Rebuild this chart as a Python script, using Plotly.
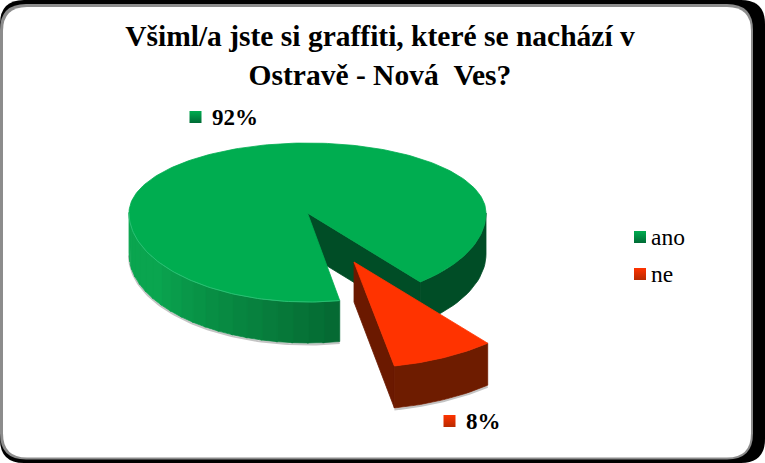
import numpy as np
import plotly.graph_objects as go

# --- data -------------------------------------------------------------
categories = ["ano", "ne"]
shares = [92, 8]
title_lines = ["Všiml/a jste si graffiti, které se nachází v", "Ostravě - Nová\u00a0\u00a0Ves?"]

# --- style / projection of the tilted pie -----------------------------
FONT = "Liberation Serif"
TOP = {"ano": "#00ad50", "ne": "#ff3300"}
START_DEG = 50.8          # the large slice's cut sits here, clockwise on screen
NE_START_DEG = 50.0       # the pulled slice is seen under a slightly different perspective
W, H = 765, 463


def rim(t, apex, a, b_low, b_up):
    """Screen position of the rim at angle(s) t (degrees) of a tilted pie."""
    r = np.radians(t)
    s = np.sin(r)
    return apex[0] + a * np.cos(r), apex[1] + np.where(s > 0, b_low, b_up) * s


ne_sweep = 360.0 * shares[1] / sum(shares)
ano_sweep = 360.0 * shares[0] / sum(shares)
ano_geo = dict(apex=(307.5, 213.0), a=178.5, b_low=89.0, b_up=70.0)
ne_geo = dict(apex=(354.0, 262.0), a=208.0, b_low=106.0, b_up=106.0)
ano_depth, ne_depth = 41.0, 42.0
ano_t0, ano_t1 = START_DEG + ne_sweep, START_DEG + ne_sweep + ano_sweep
ne_t0, ne_t1 = NE_START_DEG, NE_START_DEG + ne_sweep

fig = go.Figure()


def poly(xs, ys, color):
    fig.add_trace(go.Scatter(
        x=list(xs), y=list(ys), mode="lines", fill="toself", fillcolor=color,
        line=dict(color=color, width=0.8), hoverinfo="skip", showlegend=False,
    ))


def arc(t_a, t_b, geo, dy, color, width):
    x, y = rim(np.linspace(t_a, t_b, 80), **geo)
    fig.add_trace(go.Scatter(
        x=list(x), y=list(y + dy), mode="lines", line=dict(color=color, width=width),
        hoverinfo="skip", showlegend=False,
    ))


def wall(t_a, t_b, geo, depth, color):
    t = np.linspace(t_a, t_b, 24)
    x, y = rim(t, **geo)
    poly(np.r_[x, x[::-1], x[0]], np.r_[y, y[::-1] + depth, y[0]], color)


def lerp_hex(c0, c1, f):
    a = [int(c0[i:i + 2], 16) for i in (1, 3, 5)]
    b = [int(c1[i:i + 2], 16) for i in (1, 3, 5)]
    return "#" + "".join(f"{round(p + (q - p) * f):02x}" for p, q in zip(a, b))


# soft shadow under the large slice
arc(ano_t0, 180, ano_geo, ano_depth + 1.5, "#c4c4c4", 2)

# outer wall of the large slice: right part in shade, front part lit
edges = np.linspace(ano_t0, 180, 21)
for i in range(len(edges) - 1):
    wall(edges[i], edges[i + 1] + 0.5, ano_geo, ano_depth,
         lerp_hex("#056a33", "#0aa54f", min(1.0, i / 13)))
wall(360, ano_t1, ano_geo, ano_depth, "#004d26")

# inner cut wall of the large slice, visible through the gap
ax, ay = ano_geo["apex"]
ex, ey = rim(np.array([ano_t1]), **ano_geo)
poly([ax, ex[0], ex[0], ax, ax], [ay, ey[0], ey[0] + ano_depth, ay + ano_depth, ay], "#004d26")

# top face of the large slice, with the light rim along its front edge
t = np.linspace(ano_t0, ano_t1, 240)
x, y = rim(t, **ano_geo)
poly(np.r_[ax, x, ax], np.r_[ay, y, ay], TOP["ano"])
arc(ano_t0, 180, ano_geo, 0, "#35c47c", 0.8)

# small pulled slice: shadow, walls then top
arc(ne_t0, ne_t1, ne_geo, ne_depth + 1.5, "#c4c4c4", 2)
nx, ny = ne_geo["apex"]
p0x, p0y = rim(np.array([ne_t1]), **ne_geo)
poly([nx, p0x[0], p0x[0], nx, nx], [ny, p0y[0], p0y[0] + ne_depth, ny + ne_depth - 2, ny], "#6b1900")
wall(ne_t0, ne_t1, ne_geo, ne_depth, "#6e1c00")
t = np.linspace(ne_t0, ne_t1, 40)
x, y = rim(t, **ne_geo)
poly(np.r_[nx, x, nx], np.r_[ny, y, ny], TOP["ne"])

GRAD = {"ano": "#006b35", "ne": "#b82a00"}


def swatch(cat, px, py):
    fig.add_trace(go.Scatter(
        x=[px], y=[py], mode="markers", hoverinfo="skip", showlegend=False,
        marker=dict(symbol="square", size=12, color=TOP[cat],
                    gradient=dict(type="vertical", color=GRAD[cat])),
    ))


# legend entries
legend_pos = {"ano": (640.0, 237.0), "ne": (640.0, 274.0)}
for cat in categories:
    lx, ly = legend_pos[cat]
    swatch(cat, lx, ly)
    fig.add_annotation(x=lx + 10, y=ly, text=cat, showarrow=False,
                       xanchor="left", yanchor="middle", xshift=-1,
                       font=dict(family=FONT, size=23.5, color="#000000"))

# data labels
label_pos = {"ano": (195.5, 117.0), "ne": (449.5, 421.0)}
for cat, val in zip(categories, shares):
    lx, ly = label_pos[cat]
    swatch(cat, lx, ly)
    fig.add_annotation(x=lx + 14, y=ly, text=f"<b>{val}%</b>", showarrow=False,
                       xanchor="left", yanchor="middle",
                       font=dict(family=FONT, size=23, color="#000000"))


def rrect(x0, y0, x1, y1, r, color):
    path = (f"M{x0+r},{y0} L{x1-r},{y0} Q{x1},{y0} {x1},{y0+r} L{x1},{y1-r} "
            f"Q{x1},{y1} {x1-r},{y1} L{x0+r},{y1} Q{x0},{y1} {x0},{y1-r} "
            f"L{x0},{y0+r} Q{x0},{y0} {x0+r},{y0} Z")
    return dict(type="path", path=path, xref="x", yref="y", layer="below",
                fillcolor=color, line=dict(width=0))


fig.update_layout(
    width=W, height=H, margin=dict(l=0, r=0, t=0, b=0), showlegend=False,
    paper_bgcolor="#ffffff", plot_bgcolor="rgba(0,0,0,0)",
    title=dict(text="<b>" + "<br>".join(title_lines) + "</b>", x=0.4967, xanchor="center",
               y=0.9, yanchor="top",
               font=dict(family=FONT, size=29.5, color="#000000")),
    xaxis=dict(range=[0, W], visible=False, fixedrange=True),
    yaxis=dict(range=[H, 0], visible=False, fixedrange=True),
    shapes=[rrect(0, 0, 765, 463, 24, "#000000"),
            rrect(0, 4, 753, 459.5, 26, "#8c8c8c"),
            rrect(3, 7, 751, 457.5, 24, "#ffffff")],
)

fig.write_html("out.html", config=dict(displayModeBar=False),
               post_script="document.body.style.margin='0';document.body.style.overflow='hidden';")
